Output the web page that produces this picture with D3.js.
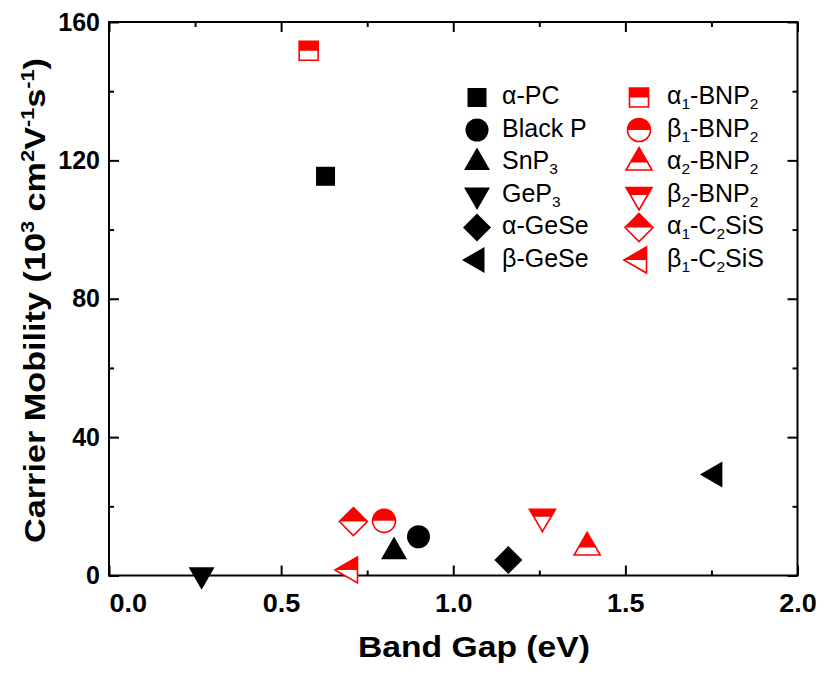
<!DOCTYPE html>
<html>
<head>
<meta charset="utf-8">
<script src="https://cdn.jsdelivr.net/npm/d3@7"></script>
<style>
  html, body { margin: 0; padding: 0; background: #fff; }
  svg { display: block; font-family: "Liberation Sans", Arial, Helvetica, sans-serif; }
</style>
</head>
<body>
<svg id="chart" width="830" height="685"></svg>
<script>
// ---- data ----
const blackNames  = ["α-PC", "Black P", "SnP_3", "GeP_3", "α-GeSe", "β-GeSe"];
const blackGap    = [0.629, 0.899, 0.828, 0.269, 1.160, 1.760];
const blackMob    = [115.4, 11.2, 6.9, 0.2, 4.5, 29.2];
const redNames    = ["α_1-BNP_2", "β_1-BNP_2", "α_2-BNP_2", "β_2-BNP_2", "α_1-C_2SiS", "β_1-C_2SiS"];
const redGap      = [0.580, 0.799, 1.389, 1.259, 0.710, 0.700];
const redMob      = [151.7, 15.8, 8.1, 17.0, 15.6, 1.6];
const shapes      = ["square", "circle", "up", "down", "diamond", "left"];
const xTicks      = [0, 0.5, 1.0, 1.5, 2.0];
const xMinorTicks = [0.25, 0.75, 1.25, 1.75];
const yTicks      = [0, 40, 80, 120, 160];
const yMinorTicks = [20, 60, 100, 140];

const RED = "#ff0000";
const svg = d3.select("#chart");
const L = 109, R = 797.5, T = 22, B = 575.5;

const x = d3.scaleLinear().domain([0, 2]).range([L, R]);
const y = d3.scaleLinear().domain([0, 160]).range([B, T]);

// ---- marker paths (centroid at origin) ----
function markerPath(shape) {
  const p = d3.path();
  if (shape === "square") { const s = 19; p.rect(-s/2, -s/2, s, s); }
  else if (shape === "circle") { const r = 11.5; p.moveTo(r, 0); p.arc(0, 0, r, 0, 2*Math.PI); p.closePath(); }
  else if (shape === "diamond") { const d = 14; p.moveTo(0,-d); p.lineTo(d,0); p.lineTo(0,d); p.lineTo(-d,0); p.closePath(); }
  else {
    const a = 26, h = a*Math.sqrt(3)/2;
    if (shape === "up") { p.moveTo(0,-2*h/3); p.lineTo(a/2,h/3); p.lineTo(-a/2,h/3); p.closePath(); }
    else if (shape === "down") { p.moveTo(0,2*h/3); p.lineTo(a/2,-h/3); p.lineTo(-a/2,-h/3); p.closePath(); }
    else if (shape === "left") { p.moveTo(-2*h/3,0); p.lineTo(h/3,-a/2); p.lineTo(h/3,a/2); p.closePath(); }
  }
  return p.toString();
}

const defs = svg.append("defs");
defs.append("clipPath").attr("id", "tophalf")
  .append("rect").attr("x", -50).attr("y", -50).attr("width", 100).attr("height", 50);

function drawBlack(g, shape) {
  g.append("path").attr("d", markerPath(shape)).attr("fill", "#000");
}
function drawRed(g, shape) {
  const d = markerPath(shape);
  g.append("path").attr("d", d).attr("fill", "#fff");
  g.append("path").attr("d", d).attr("fill", RED).attr("clip-path", "url(#tophalf)");
  g.append("path").attr("d", d).attr("fill", "none").attr("stroke", RED).attr("stroke-width", 1.6);
}

// ---- axes ----
const tickFont = 25;
const axG = svg.append("g").attr("font-weight", "bold");

function styleAxis(g) {
  g.select(".domain").remove();
  g.selectAll("line").attr("stroke", "#000").attr("stroke-width", 2);
  g.selectAll("text").attr("fill", "#000").attr("font-size", tickFont)
    .attr("font-family", "Liberation Sans, Arial, sans-serif").attr("font-weight", "bold");
}

const xb = axG.append("g").attr("transform", `translate(0,${B})`)
  .call(d3.axisBottom(x).tickValues(xTicks).tickSize(-10).tickPadding(19).tickFormat(d3.format(".1f")));
styleAxis(xb);
xb.selectAll("text").attr("transform", "scale(1.08,1)");
xb.selectAll(".tick").filter(d => d === 0).select("text").attr("text-anchor", "start").attr("x", 0);

const xbm = axG.append("g").attr("transform", `translate(0,${B})`)
  .call(d3.axisBottom(x).tickValues(xMinorTicks).tickSize(-5).tickFormat(""));
styleAxis(xbm);
const xt = axG.append("g").attr("transform", `translate(0,${T})`)
  .call(d3.axisTop(x).tickValues(xTicks).tickSize(-10).tickFormat(""));
styleAxis(xt);
const xtm = axG.append("g").attr("transform", `translate(0,${T})`)
  .call(d3.axisTop(x).tickValues(xMinorTicks).tickSize(-5).tickFormat(""));
styleAxis(xtm);

const yl = axG.append("g").attr("transform", `translate(${L},0)`)
  .call(d3.axisLeft(y).tickValues(yTicks).tickSize(-10).tickPadding(9).tickFormat(d3.format("d")));
styleAxis(yl);
const ylm = axG.append("g").attr("transform", `translate(${L},0)`)
  .call(d3.axisLeft(y).tickValues(yMinorTicks).tickSize(-5).tickFormat(""));
styleAxis(ylm);
const yr = axG.append("g").attr("transform", `translate(${R},0)`)
  .call(d3.axisRight(y).tickValues(yTicks).tickSize(-10).tickFormat(""));
styleAxis(yr);
const yrm = axG.append("g").attr("transform", `translate(${R},0)`)
  .call(d3.axisRight(y).tickValues(yMinorTicks).tickSize(-5).tickFormat(""));
styleAxis(yrm);

// frame
svg.append("rect").attr("x", L).attr("y", T).attr("width", R - L).attr("height", B - T)
  .attr("fill", "none").attr("stroke", "#000").attr("stroke-width", 2);

// ---- points ----
const pts = svg.append("g");
blackGap.forEach((gx, i) => {
  const g = pts.append("g").attr("transform", `translate(${x(gx)},${y(blackMob[i])})`);
  drawBlack(g, shapes[i]);
});
redGap.forEach((gx, i) => {
  const g = pts.append("g").attr("transform", `translate(${x(gx)},${y(redMob[i])})`);
  drawRed(g, shapes[i]);
});

// ---- text helpers ----
function addRich(textSel, str, subSize, subDy) {
  // "_" followed by one char => subscript
  const parts = [];
  for (let i = 0; i < str.length; i++) {
    if (str[i] === "_" && i + 1 < str.length) { parts.push({t: str[i+1], sub: true}); i++; }
    else {
      if (parts.length && !parts[parts.length-1].sub) parts[parts.length-1].t += str[i];
      else parts.push({t: str[i], sub: false});
    }
  }
  let shifted = false;
  parts.forEach(pt => {
    const ts = textSel.append("tspan").text(pt.t);
    if (pt.sub && !shifted) { ts.attr("dy", subDy).attr("font-size", subSize); shifted = true; }
    else if (pt.sub && shifted) { ts.attr("font-size", subSize); }
    else if (!pt.sub && shifted) { ts.attr("dy", -subDy); shifted = false; }
  });
}

// ---- legend ----
const leg = svg.append("g");
const rowY = i => 104 + 32.5 * i;
blackNames.forEach((nm, i) => {
  const g = leg.append("g").attr("transform", `translate(477,${rowY(i) - 6.5})`);
  drawBlack(g, shapes[i]);
  const t = leg.append("text").attr("x", 502).attr("y", rowY(i)).attr("font-size", 25).attr("fill", "#000");
  addRich(t, nm, 15.5, 5);
});
redNames.forEach((nm, i) => {
  const g = leg.append("g").attr("transform", `translate(639,${rowY(i) - 6.5})`);
  drawRed(g, shapes[i]);
  const t = leg.append("text").attr("x", 667).attr("y", rowY(i)).attr("font-size", 25).attr("fill", "#000");
  addRich(t, nm, 15.5, 5);
});

// ---- axis titles ----
svg.append("text").attr("x", 474).attr("y", 656.5).attr("text-anchor", "middle")
  .attr("font-size", 30).attr("font-weight", "bold").attr("fill", "#000")
  .attr("textLength", 232).attr("lengthAdjust", "spacingAndGlyphs")
  .text("Band Gap (eV)");

const yt = svg.append("text").attr("transform", "translate(45,300.5) rotate(-90)")
  .attr("text-anchor", "middle").attr("font-size", 30).attr("font-weight", "bold").attr("fill", "#000")
  .attr("textLength", 485).attr("lengthAdjust", "spacingAndGlyphs");
const ySegs = [["Carrier Mobility (10", 0], ["3", 1], [" cm", 0], ["2", 1], ["V", 0], ["-1", 1], ["s", 0], ["-1", 1], [")", 0]];
let up = false;
ySegs.forEach(([t, sup]) => {
  const ts = yt.append("tspan").text(t);
  if (sup) { ts.attr("font-size", 19); if (!up) { ts.attr("dy", -11); up = true; } }
  else if (up) { ts.attr("dy", 11); up = false; }
});
</script>
</body>
</html>
